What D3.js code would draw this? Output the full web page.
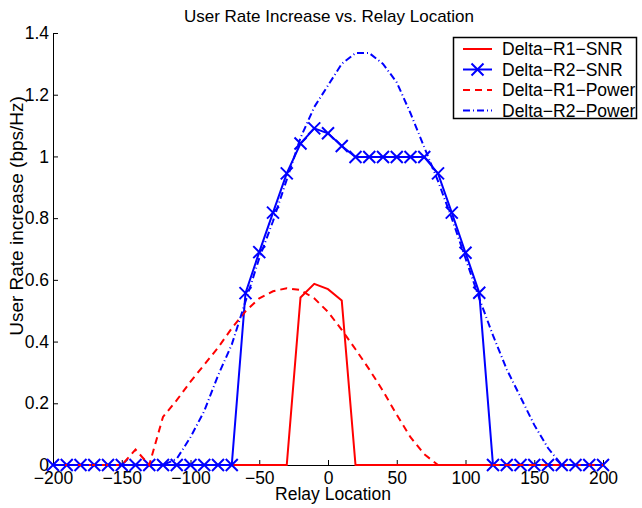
<!DOCTYPE html>
<html>
<head>
<meta charset="utf-8">
<script src="https://cdn.jsdelivr.net/npm/d3@7"></script>
<style>
  body { margin: 0; background: #fff; }
  svg { display: block; font-family: "Liberation Sans", Arial, sans-serif; }
</style>
</head>
<body>
<div id="container"></div>
<script>
// relay positions, step 10 from -200 to 200
const relayX = d3.range(-200, 201, 10);

// Delta-R1-SNR
const r1Snr = [0,0,0,0,0,0,0,0,0,0, 0,0,0,0,0,0,0,
  0, 0.543, 0.587, 0.570, 0.533, 0,
  0,0,0,0,0,0,0,0,0,0, 0,0,0,0,0,0,0,0];

// Delta-R2-SNR (with markers)
const r2Snr = [0,0,0,0,0,0,0,0,0,0, 0,0,0,0,
  0.557, 0.690, 0.818, 0.945, 1.042, 1.091, 1.075, 1.034,
  0.998, 0.998, 0.998, 0.998, 0.998, 0.998,
  0.945, 0.818, 0.688, 0.558,
  0,0,0,0,0,0,0,0,0];

// Delta-R1-Power
const r1Power = [0,0,0,0,0,0, 0.05, 0, 0.156, 0.21, 0.27, 0.325, 0.38, 0.443,
  0.498, 0.540, 0.563, 0.573, 0.567, 0.540, 0.496, 0.438, 0.375, 0.31, 0.24,
  0.163, 0.09, 0.035, 0,
  0,0,0,0,0,0,0,0,0,0,0,0];

// Delta-R2-Power
const r2Power = [0,0,0,0,0,0,0,0,0, 0.02, 0.09, 0.175, 0.29, 0.39, 0.53,
  0.67, 0.79, 0.925, 1.06, 1.16, 1.23, 1.30, 1.335, 1.335, 1.30, 1.24, 1.14,
  1.03, 0.92, 0.80, 0.67, 0.54, 0.42, 0.31, 0.22, 0.13, 0.055, 0,
  0,0,0];

const xTicks = [-200, -150, -100, -50, 0, 50, 100, 150, 200];
const yTicks = [0, 0.2, 0.4, 0.6, 0.8, 1, 1.2, 1.4];

const series = [
  { name: "Delta\u2212R1\u2212SNR", values: r1Snr, color: "#ff0000", dash: null, marker: false },
  { name: "Delta\u2212R2\u2212SNR", values: r2Snr, color: "#0000ff", dash: null, marker: true },
  { name: "Delta\u2212R1\u2212Power", values: r1Power, color: "#ff0000", dash: "7,5", marker: false },
  { name: "Delta\u2212R2\u2212Power", values: r2Power, color: "#0000ff", dash: "7,3,1,3", marker: false }
];

const width = 642, height = 508;
const margin = { left: 53, right: 39, top: 33, bottom: 43 };
const fontSize = 17.5;

const svg = d3.create("svg")
  .attr("width", width)
  .attr("height", height);

const x = d3.scaleLinear().domain([-200, 200]).range([margin.left, width - margin.right]);
const y = d3.scaleLinear().domain([0, 1.4]).range([height - margin.bottom, margin.top]);

// axes with inward ticks
const xAxis = svg.append("g")
  .attr("transform", "translate(0," + y(0) + ")")
  .call(d3.axisBottom(x).tickValues(xTicks).tickSizeInner(-5).tickSizeOuter(0).tickPadding(10).tickFormat(d3.format("d")));
const yAxis = svg.append("g")
  .attr("transform", "translate(" + x(-200) + ",0)")
  .call(d3.axisLeft(y).tickValues(yTicks).tickSizeInner(-5).tickSizeOuter(0).tickPadding(4).tickFormat(d => d3.format("")(d)));

[xAxis, yAxis].forEach(ax => {
  ax.selectAll("text").attr("font-size", fontSize).attr("fill", "#000").attr("font-family", "Liberation Sans, Arial, sans-serif");
  ax.select(".domain").attr("stroke", "#000");
  ax.selectAll(".tick line").attr("stroke", "#000");
});
xAxis.selectAll("text").attr("dy", "0.5em");

// lines
const line = d3.line()
  .x((d, i) => x(relayX[i]))
  .y(d => y(d));

series.forEach(s => {
  svg.append("path")
    .datum(s.values)
    .attr("fill", "none")
    .attr("stroke", s.color)
    .attr("stroke-width", 2)
    .attr("stroke-dasharray", s.dash)
    .attr("d", line);

  if (s.marker) {
    svg.append("g").selectAll("path")
      .data(s.values)
      .enter().append("path")
      .attr("transform", (d, i) => "translate(" + x(relayX[i]) + "," + y(d) + ")")
      .attr("d", "M-6,-6L6,6M-6,6L6,-6")
      .attr("stroke", s.color)
      .attr("stroke-width", 2)
      .attr("fill", "none");
  }
});

// title and labels
svg.append("text")
  .attr("x", 329).attr("y", 22)
  .attr("text-anchor", "middle")
  .attr("font-size", 17)
  .text("User Rate Increase vs. Relay Location");

svg.append("text")
  .attr("x", 333).attr("y", 500)
  .attr("text-anchor", "middle")
  .attr("font-size", fontSize)
  .text("Relay Location");

svg.append("text")
  .attr("transform", "translate(23,216) rotate(-90)")
  .attr("text-anchor", "middle")
  .attr("font-size", 19)
  .text("User Rate increase (bps/Hz)");

// legend
const legend = svg.append("g");
legend.append("rect")
  .attr("x", 453.5).attr("y", 37.5)
  .attr("width", 183).attr("height", 81)
  .attr("fill", "#fff")
  .attr("stroke", "#000")
  .attr("stroke-width", 1.5);

series.forEach((s, i) => {
  const ly = 49 + i * 20.5;
  legend.append("line")
    .attr("x1", 463).attr("x2", 492)
    .attr("y1", ly).attr("y2", ly)
    .attr("stroke", s.color)
    .attr("stroke-width", 2)
    .attr("stroke-dasharray", s.dash);
  if (s.marker) {
    legend.append("path")
      .attr("transform", "translate(477.5," + ly + ")")
      .attr("d", "M-6,-6L6,6M-6,6L6,-6")
      .attr("stroke", s.color)
      .attr("stroke-width", 2);
  }
  legend.append("text")
    .attr("x", 502).attr("y", ly)
    .attr("dy", "0.35em")
    .attr("font-size", fontSize)
    .text(s.name);
});

document.getElementById("container").append(svg.node());
</script>
</body>
</html>
